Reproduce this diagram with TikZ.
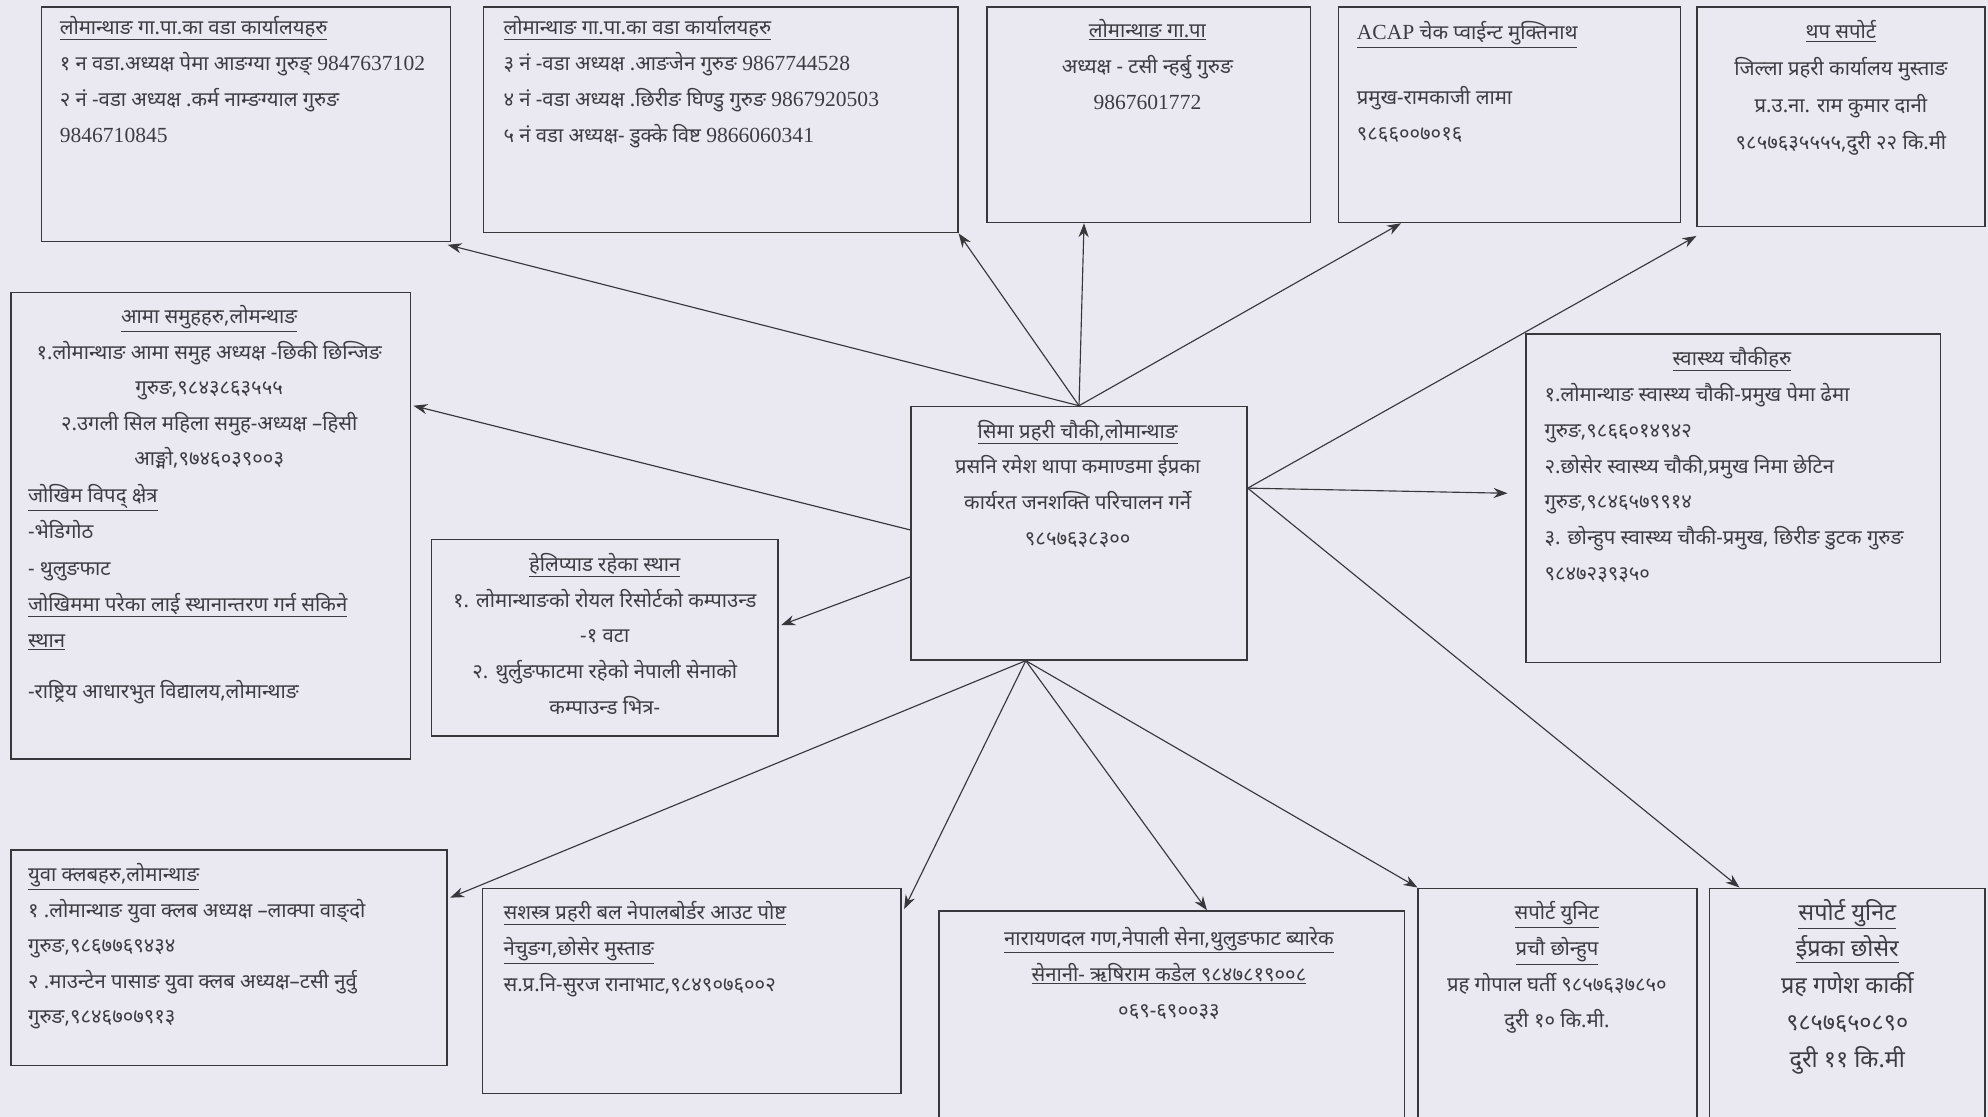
\documentclass[tikz,border=0pt]{standalone}
\usepackage{fontspec}
\setmainfont[Script=Devanagari]{Noto Sans}
\newfontfamily\lat{Liberation Serif}
\usetikzlibrary{arrows.meta,calc}
\definecolor{bgc}{RGB}{234,233,241}
\definecolor{linec}{RGB}{55,55,60}
\definecolor{textc}{RGB}{60,60,66}
\tikzset{
  box/.style={draw=linec, line width=1.1pt, fill=bgc, inner sep=0pt, anchor=north west},
  txt/.style={inner sep=0pt, text=textc, font=\fontsize{16}{28.3}\selectfont},
  txtl/.style={txt, align=left, anchor=north west},
  txtc/.style={txt, align=center, anchor=north},
  arr/.style={-{Stealth[length=11pt,width=8pt]}, line width=0.9pt, draw=linec}
}
\newcommand{\ul}[1]{\underline{#1}}
\newcommand{\la}[1]{{\lat\fontsize{17}{28.3}\selectfont #1}}
\begin{document}
\begin{tikzpicture}[x=1pt,y=-1pt]
\clip (0,0) rectangle (1568,881);
\fill[bgc] (0,0) rectangle (1568,881);

% boxes
\node[box, minimum width=323pt, minimum height=185pt] (b1) at (32,5) {};
\node[box, minimum width=374pt, minimum height=178pt] (b2) at (381,5) {};
\node[box, minimum width=255pt, minimum height=170pt] (b3) at (778,5) {};
\node[box, minimum width=270pt, minimum height=170pt] (b4) at (1055,5) {};
\node[box, minimum width=227pt, minimum height=173pt] (b5) at (1338,5) {};
\node[box, minimum width=315pt, minimum height=368pt] (lb) at (8,230) {};
\node[box, minimum width=273pt, minimum height=155pt] (hp) at (340,425) {};
\node[box, minimum width=265pt, minimum height=200pt] (c) at (718,320) {};
\node[box, minimum width=327pt, minimum height=259pt] (hb) at (1203,263) {};
\node[box, minimum width=344pt, minimum height=170pt] (yb) at (8,670) {};
\node[box, minimum width=330pt, minimum height=162pt] (sb) at (380,700) {};
\node[box, minimum width=367pt, minimum height=200pt] (nb) at (740,718) {};
\node[box, minimum width=220pt, minimum height=200pt] (s1) at (1118,700) {};
\node[box, minimum width=217pt, minimum height=200pt] (s2) at (1348,700) {};

% texts
\node[txtl] (t1) at (47,13) {\ul{लोमान्थाङ गा.पा.का वडा  कार्यालयहरु}\\
१ न वडा.अध्यक्ष पेमा आङग्या गुरुङ् \la{9847637102}\\
२ नं -वडा अध्यक्ष .कर्म नाम्ङग्याल गुरुङ\\
\la{9846710845}};
\node[txtl] (t2) at (397,13) {\ul{लोमान्थाङ गा.पा.का वडा  कार्यालयहरु}\\
३ नं -वडा अध्यक्ष .आङजेन गुरुङ \la{9867744528}\\
४ नं -वडा अध्यक्ष .छिरीङ घिण्डु गुरुङ \la{9867920503}\\
५ नं वडा अध्यक्ष- डुक्के विष्ट \la{9866060341}};
\node[txtc] (t3) at (905,15) {\ul{लोमान्थाङ गा.पा}\\
अध्यक्ष - टसी न्हर्बु गुरुङ\\
\la{9867601772}};
\node[txtl] (t4a) at (1070,17) {\ul{\la{ACAP} चेक प्वाईन्ट मुक्तिनाथ}};
\node[txtl] (t4b) at (1070,68) {प्रमुख-रामकाजी लामा\\
९८६६००७०१६};
\node[txtc, font=\fontsize{16}{29}\selectfont] (t5) at (1452,16) {\ul{थप सपोर्ट}\\
जिल्ला प्रहरी कार्यालय मुस्ताङ\\
प्र.उ.ना. राम कुमार दानी\\
९८५७६३५५५५,दुरी २२ कि.मी};
\node[txtc, font=\fontsize{16}{28}\selectfont] (tla) at (165,241) {\ul{आमा समुहहरु,लोमन्थाङ}\\
१.लोमान्थाङ आमा समुह  अध्यक्ष  -छिकी छिन्जिङ\\
गुरुङ,९८४३८६३५५५\\
२.उगली सिल महिला समुह-अध्यक्ष –हिसी\\
आङ्मो,९७४६०३९००३};
\node[txtl, font=\fontsize{16}{28.5}\selectfont] (tlb) at (22,382) {\ul{जोखिम विपद् क्षेत्र}\\
-भेडिगोठ\\
- थुलुङफाट\\
\ul{जोखिममा परेका लाई स्थानान्तरण गर्न सकिने}\\
\ul{स्थान}};
\node[txtl] (tlc) at (22,536) {-राष्ट्रिय आधारभुत विद्यालय,लोमान्थाङ};
\node[txtc] (thp) at (477,436) {\ul{हेलिप्याड रहेका स्थान}\\
१. लोमान्थाङको रोयल रिसोर्टको कम्पाउन्ड\\
-१ वटा\\
२. थुर्लुङफाटमा रहेको नेपाली सेनाको\\
कम्पाउन्ड भित्र-};
\node[txtc] (tc) at (850,331) {\ul{सिमा प्रहरी चौकी,लोमान्थाङ}\\
प्रसनि रमेश थापा कमाण्डमा ईप्रका\\
कार्यरत जनशक्ति परिचालन गर्ने\\
९८५७६३८३००};
\node[txtc] (thb1) at (1366,274) {\ul{स्वास्थ्य चौकीहरु}};
\node[txtl] (thb2) at (1218,302) {१.लोमान्थाङ स्वास्थ्य चौकी-प्रमुख पेमा ढेमा\\
गुरुङ,९८६६०१४९४२\\
२.छोसेर स्वास्थ्य चौकी,प्रमुख निमा छेटिन\\
गुरुङ,९८४६५७९९१४\\
३. छोन्हुप स्वास्थ्य चौकी-प्रमुख, छिरीङ डुटक गुरुङ\\
९८४७२३९३५०};
\node[txtl, font=\fontsize{16}{28}\selectfont] (ty) at (22,681) {\ul{युवा क्लबहरु,लोमान्थाङ}\\
१ .लोमान्थाङ युवा क्लब अध्यक्ष –लाक्पा वाङ्दो\\
गुरुङ,९८६७७६९४३४\\
२ .माउन्टेन पासाङ युवा क्लब अध्यक्ष–टसी नुर्वु\\
गुरुङ,९८४६७०७९१३};
\node[txtl] (ts) at (397,711) {\ul{सशस्त्र प्रहरी बल नेपालबोर्डर आउट पोष्ट}\\
\ul{नेचुङग,छोसेर मुस्ताङ}\\
स.प्र.नि-सुरज रानाभाट,९८४९०७६००२};
\node[txtc] (tn) at (922,731) {\ul{नारायणदल गण,नेपाली सेना,थुलुङफाट ब्यारेक}\\
\ul{सेनानी- ऋषिराम कडेल ९८४७८१९००८}\\
०६९-६९००३३};
\node[txtc] (ts1) at (1228,711) {\ul{सपोर्ट युनिट}\\
\ul{प्रचौ छोन्हुप}\\
प्रह गोपाल घर्ती ९८५७६३७८५०\\
दुरी १० कि.मी.};
\node[txtc, font=\fontsize{18.5}{29}\selectfont] (ts2) at (1457,709) {\ul{सपोर्ट युनिट}\\
\ul{ईप्रका छोसेर}\\
प्रह गणेश कार्की\\
९८५७६५०८९०\\
दुरी ११ कि.मी};

% connector start points on the central box
\coordinate (ctop) at (c.north);
\coordinate (cleft) at ($(c.north west)+(0,98)$);
\coordinate (cleft2) at ($(c.north west)+(0,135)$);
\coordinate (cright) at ($(c.north east)+(0,65)$);
\coordinate (cbot) at ($(c.south)+(-42,0)$);

% connectors
\draw[arr] (ctop) -- ($(b1.south east)+(-3,2)$);
\draw[arr] (ctop) -- (b2.south east);
\draw[arr] (ctop) -- ($(b3.south west)+(77,0)$);
\draw[arr] (ctop) -- ($(b4.south west)+(50,0)$);
\draw[arr] (cright) -- ($(b5.south west)+(0,7)$);
\draw[arr] (cleft) -- ($(lb.north east)+(2,90)$);
\draw[arr] (cleft2) -- ($(hp.east)+(2,-10)$);
\draw[arr] (cright) -- ($(hb.west)+(-14,-4)$);
\draw[arr] (cright) -- ($(s2.north west)+(24,0)$);
\draw[arr] (cbot) -- ($(yb.north east)+(2,38)$);
\draw[arr] (cbot) -- ($(sb.north east)+(2,17)$);
\draw[arr] (cbot) -- ($(nb.north west)+(212,0)$);
\draw[arr] (cbot) -- (s1.north west);
\end{tikzpicture}
\end{document}
